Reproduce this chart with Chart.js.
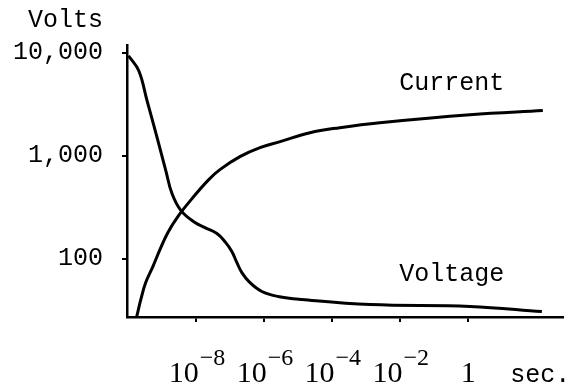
<!DOCTYPE html>
<html>
<head>
<meta charset="utf-8">
<script src="https://cdn.jsdelivr.net/npm/chart.js@4.4.0/dist/chart.umd.min.js"></script>
<style>
  html, body { margin: 0; padding: 0; background: #fff; }
  #wrap { width: 570px; height: 389px; }
</style>
</head>
<body>
<div id="wrap"><canvas id="pulseChart"></canvas></div>
<script>
// time in seconds vs volts
var voltageTime  = [1e-10, 2e-10, 3.5e-10, 6.8e-10, 1.25e-9, 1.9e-9, 3.5e-9, 9e-9, 1.77e-8, 4e-8, 6.9e-8, 1.1e-7, 1.55e-7, 2.17e-7, 3.7e-7, 8.4e-7, 2.5e-6, 1.27e-5, 1.3e-3, 1.13, 148];
var voltageVolts = [9350, 6680, 3420, 1530, 715, 428, 292, 224, 200, 175, 146, 117, 91, 73, 58.5, 47.8, 42.8, 40, 35.7, 34.2, 30.5];

var currentTime  = [1.75e-10, 2.3e-10, 3.2e-10, 5.2e-10, 8.4e-10, 1.44e-9, 2.83e-9, 8.3e-9, 2.3e-8, 4.9e-8, 1.9e-7, 7.4e-7, 2.9e-6, 2.2e-5, 1.66e-4, 2.5e-3, 1.13, 158];
var currentVolts = [27.4, 40, 58.5, 83.5, 122, 179, 256, 400, 585, 731, 977, 1196, 1368, 1672, 1870, 2090, 2500, 2740];

var yTickValues = [100, 1000, 10000];
var yTickLabels = ['100', '1,000', '10,000'];
var xTickExponents = [-8, -6, -4, -2, 0];

function toPoints(xs, ys) {
  return xs.map(function(t, i) { return { x: t, y: ys[i] }; });
}

var typedLabels = {
  id: 'typedLabels',
  afterDraw: function(chart) {
    var ctx = chart.ctx;
    var xs = chart.scales.x, ys = chart.scales.y;
    ctx.save();
    ctx.fillStyle = '#000';
    ctx.textBaseline = 'alphabetic';

    ctx.font = '25px "Liberation Mono"';
    ctx.textAlign = 'right';
    ctx.fillText('Volts', chart.chartArea.left - 24, 27);

    // 10^n labels under the time axis
    var base = ys.bottom + 65;
    xTickExponents.forEach(function(e) {
      var px = xs.getPixelForValue(Math.pow(10, e));
      ctx.textAlign = 'left';
      if (e === 0) {
        ctx.font = '30px "Liberation Serif"';
        var w1 = ctx.measureText('1').width;
        ctx.fillText('1', px - w1 / 2, base);
        return;
      }
      var sup = '\u2212' + Math.abs(e);
      ctx.font = '30px "Liberation Serif"';
      var wb = ctx.measureText('10').width;
      ctx.font = '24px "Liberation Serif"';
      var ws = ctx.measureText(sup).width;
      var left = px - (wb + ws) / 2;
      ctx.font = '30px "Liberation Serif"';
      ctx.fillText('10', left, base);
      ctx.font = '24px "Liberation Serif"';
      ctx.fillText(sup, left + wb + 1, base - 17);
    });

    ctx.font = '25px "Liberation Mono"';
    ctx.textAlign = 'left';
    ctx.fillText('sec.', xs.getPixelForValue(1) + 42, base);

    // curve names
    ctx.textAlign = 'center';
    ctx.fillText('Current', xs.getPixelForValue(0.33), ys.getPixelForValue(4370));
    ctx.fillText('Voltage', xs.getPixelForValue(0.33), ys.getPixelForValue(60));
    ctx.restore();
  }
};

var ctx = document.getElementById('pulseChart');
var pulseChart = new Chart(ctx, {
  type: 'line',
  data: {
    datasets: [
      {
        label: 'Voltage',
        data: toPoints(voltageTime, voltageVolts),
        borderColor: '#000',
        borderWidth: 3,
        tension: 0.4,
        pointRadius: 0,
        fill: false
      },
      {
        label: 'Current',
        data: toPoints(currentTime, currentVolts),
        borderColor: '#000',
        borderWidth: 3,
        tension: 0.4,
        pointRadius: 0,
        fill: false
      }
    ]
  },
  options: {
    responsive: true,
    maintainAspectRatio: false,
    animation: false,
    layout: { padding: { top: 45, right: 7, left: 0, bottom: 0 } },
    plugins: {
      legend: { display: false },
      tooltip: { enabled: false }
    },
    scales: {
      x: {
        type: 'logarithmic',
        min: 9e-11,
        max: 620,
        afterBuildTicks: function(axis) {
          axis.ticks = xTickExponents.map(function(e) { return { value: Math.pow(10, e) }; });
        },
        afterFit: function(axis) { axis.height = 72; },
        ticks: { display: false },
        grid: { display: true, drawOnChartArea: false, drawTicks: true, tickLength: 5, color: '#000', lineWidth: 2 },
        border: { display: true, color: '#000', width: 2.5 }
      },
      y: {
        type: 'logarithmic',
        min: 27,
        max: 11900,
        afterBuildTicks: function(axis) {
          axis.ticks = yTickValues.map(function(v) { return { value: v }; });
        },
        afterFit: function(axis) { axis.width = 127; },
        ticks: {
          padding: 19,
          color: '#000',
          font: { family: 'Liberation Mono', size: 25 },
          callback: function(value) { return yTickLabels[yTickValues.indexOf(value)]; }
        },
        grid: { display: true, drawOnChartArea: false, drawTicks: true, tickLength: 5, color: '#000', lineWidth: 2 },
        border: { display: true, color: '#000', width: 2.5 }
      }
    }
  },
  plugins: [typedLabels]
});
</script>
</body>
</html>
